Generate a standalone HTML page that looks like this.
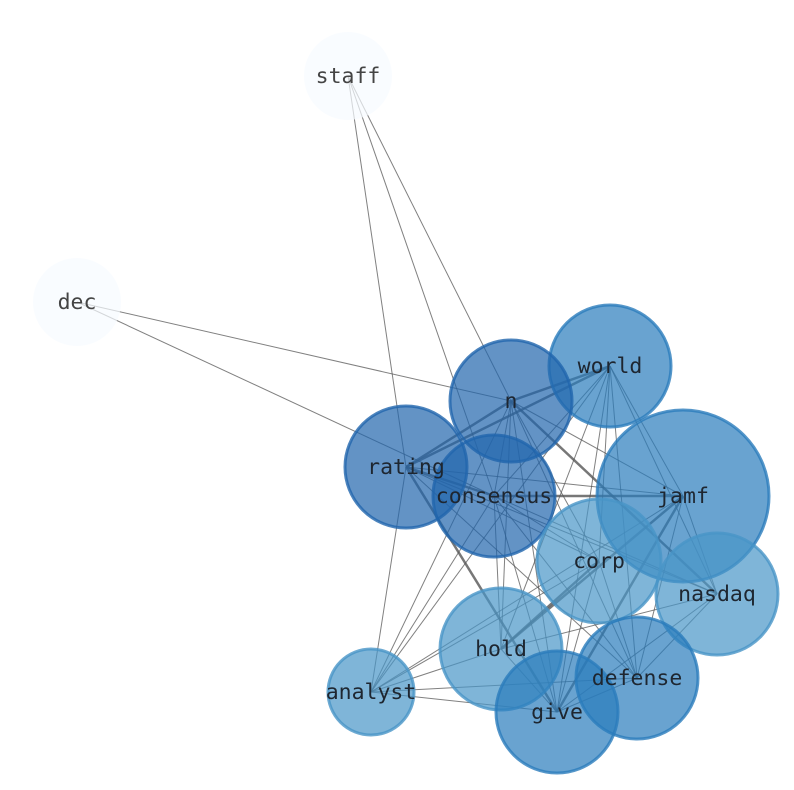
<!DOCTYPE html>
<html><head><style>html,body{margin:0;padding:0;background:#fff;width:794px;height:790px;overflow:hidden}</style></head>
<body>
<svg width="794" height="790" xmlns="http://www.w3.org/2000/svg" font-family="'DejaVu Sans Mono','Liberation Mono',monospace" font-size="21.5">
<g stroke="#555" stroke-opacity="0.75" stroke-width="1">
<line x1="348" y1="76" x2="406" y2="467"/>
<line x1="348" y1="76" x2="494" y2="496"/>
<line x1="348" y1="76" x2="511" y2="401"/>
<line x1="77" y1="302" x2="511" y2="401"/>
<line x1="77" y1="302" x2="494" y2="496"/>
<line x1="406" y1="467" x2="371" y2="692"/>
<line x1="494" y1="496" x2="371" y2="692"/>
<line x1="511" y1="401" x2="371" y2="692"/>
<line x1="610" y1="366" x2="371" y2="692"/>
<line x1="599" y1="561" x2="371" y2="692"/>
<line x1="683" y1="496" x2="371" y2="692"/>
<line x1="501" y1="649" x2="371" y2="692"/>
<line x1="637" y1="678" x2="371" y2="692"/>
<line x1="557" y1="712" x2="371" y2="692"/>
<line x1="406" y1="467" x2="683" y2="496"/>
<line x1="406" y1="467" x2="599" y2="561"/>
<line x1="406" y1="467" x2="717" y2="594"/>
<line x1="406" y1="467" x2="637" y2="678"/>
<line x1="511" y1="401" x2="683" y2="496"/>
<line x1="511" y1="401" x2="494" y2="496"/>
<line x1="511" y1="401" x2="501" y2="649"/>
<line x1="511" y1="401" x2="557" y2="712"/>
<line x1="511" y1="401" x2="637" y2="678"/>
<line x1="511" y1="401" x2="599" y2="561"/>
<line x1="610" y1="366" x2="494" y2="496"/>
<line x1="610" y1="366" x2="683" y2="496"/>
<line x1="610" y1="366" x2="717" y2="594"/>
<line x1="610" y1="366" x2="557" y2="712"/>
<line x1="610" y1="366" x2="637" y2="678"/>
<line x1="610" y1="366" x2="501" y2="649"/>
<line x1="610" y1="366" x2="599" y2="561"/>
<line x1="494" y1="496" x2="599" y2="561"/>
<line x1="494" y1="496" x2="717" y2="594"/>
<line x1="494" y1="496" x2="501" y2="649"/>
<line x1="494" y1="496" x2="557" y2="712"/>
<line x1="494" y1="496" x2="637" y2="678"/>
<line x1="683" y1="496" x2="717" y2="594"/>
<line x1="683" y1="496" x2="637" y2="678"/>
<line x1="599" y1="561" x2="557" y2="712"/>
<line x1="599" y1="561" x2="637" y2="678"/>
<line x1="717" y1="594" x2="501" y2="649"/>
<line x1="717" y1="594" x2="557" y2="712"/>
<line x1="717" y1="594" x2="637" y2="678"/>
<line x1="501" y1="649" x2="557" y2="712"/>
<line x1="637" y1="678" x2="557" y2="712"/>
</g>
<g stroke="#555" stroke-opacity="0.8" stroke-width="2.5">
<line x1="406" y1="467" x2="511" y2="401"/>
<line x1="406" y1="467" x2="610" y2="366"/>
<line x1="406" y1="467" x2="557" y2="712"/>
<line x1="511" y1="401" x2="610" y2="366"/>
<line x1="511" y1="401" x2="717" y2="594"/>
<line x1="494" y1="496" x2="683" y2="496"/>
<line x1="683" y1="496" x2="557" y2="712"/>
<line x1="683" y1="496" x2="501" y2="649"/>
<line x1="599" y1="561" x2="501" y2="649"/>
<line x1="406" y1="467" x2="494" y2="496"/>
</g>
<g stroke-width="3">
<circle cx="348" cy="76" r="44" fill="#f7fbff" fill-opacity="0.7" stroke="none"/>
<circle cx="77" cy="302" r="44" fill="#f7fbff" fill-opacity="0.7" stroke="none"/>
<circle cx="683" cy="496" r="86" fill="#2a7cbc" fill-opacity="0.7" stroke="#2a7cbc" stroke-opacity="0.8"/>
<circle cx="717" cy="594" r="61" fill="#4895c7" fill-opacity="0.7" stroke="#4895c7" stroke-opacity="0.8"/>
<circle cx="610" cy="366" r="61" fill="#2a7cbc" fill-opacity="0.7" stroke="#2a7cbc" stroke-opacity="0.8"/>
<circle cx="511" cy="401" r="61" fill="#2165ad" fill-opacity="0.7" stroke="#2165ad" stroke-opacity="0.8"/>
<circle cx="406" cy="467" r="61" fill="#2165ad" fill-opacity="0.7" stroke="#2165ad" stroke-opacity="0.8"/>
<circle cx="494" cy="496" r="61" fill="#2165ad" fill-opacity="0.7" stroke="#2165ad" stroke-opacity="0.8"/>
<circle cx="599" cy="561" r="62" fill="#4895c7" fill-opacity="0.7" stroke="#4895c7" stroke-opacity="0.8"/>
<circle cx="501" cy="649" r="61" fill="#4895c7" fill-opacity="0.7" stroke="#4895c7" stroke-opacity="0.8"/>
<circle cx="637" cy="678" r="61" fill="#2a7cbc" fill-opacity="0.7" stroke="#2a7cbc" stroke-opacity="0.8"/>
<circle cx="557" cy="712" r="61" fill="#2a7cbc" fill-opacity="0.7" stroke="#2a7cbc" stroke-opacity="0.8"/>
<circle cx="371" cy="692" r="43" fill="#4895c7" fill-opacity="0.7" stroke="#4895c7" stroke-opacity="0.8"/>
</g>
<g text-anchor="middle" fill="#1e2630">
<text x="348" y="83" fill="#444">staff</text>
<text x="77" y="309" fill="#444">dec</text>
<text x="610" y="373">world</text>
<text x="511" y="408">n</text>
<text x="406" y="474">rating</text>
<text x="494" y="503">consensus</text>
<text x="683" y="503">jamf</text>
<text x="599" y="568">corp</text>
<text x="717" y="601">nasdaq</text>
<text x="501" y="656">hold</text>
<text x="637" y="685">defense</text>
<text x="557" y="719">give</text>
<text x="371" y="699">analyst</text>
</g>
</svg>
</body></html>
